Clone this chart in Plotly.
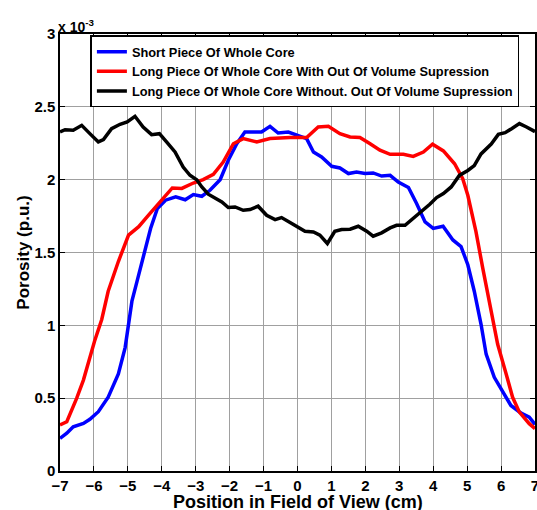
import plotly.graph_objects as go

# Porosity values in units of 1e-3
blue_x = [-7.0, -6.80, -6.61, -6.31, -6.12, -5.87, -5.58, -5.28, -5.08, -4.98, -4.88, -4.73, -4.53, -4.33,
          -4.13, -3.89, -3.59, -3.31, -3.07, -2.82, -2.58, -2.28, -2.04, -1.79, -1.55, -1.06, -0.81, -0.57,
          -0.27, -0.02, 0.27, 0.47, 0.71, 1.01, 1.25, 1.50, 1.74, 1.99, 2.23, 2.48, 2.73, 2.97, 3.27, 3.51,
          3.76, 4.00, 4.29, 4.58, 4.82, 5.02, 5.21, 5.41, 5.56, 5.80, 6.05, 6.29, 6.59, 6.83, 7.0]
blue_y = [0.224, 0.259, 0.304, 0.327, 0.355, 0.407, 0.507, 0.666, 0.847, 1.007, 1.166, 1.302, 1.484, 1.665,
          1.802, 1.859, 1.882, 1.862, 1.898, 1.886, 1.927, 2.000, 2.133, 2.247, 2.327, 2.327, 2.366, 2.320,
          2.327, 2.305, 2.282, 2.190, 2.156, 2.092, 2.080, 2.042, 2.053, 2.042, 2.046, 2.025, 2.030, 1.984,
          1.946, 1.836, 1.710, 1.665, 1.680, 1.586, 1.541, 1.416, 1.234, 1.007, 0.802, 0.643, 0.541, 0.450,
          0.397, 0.370, 0.320]

red_x = [-7.0, -6.80, -6.51, -6.31, -5.98, -5.77, -5.58, -5.28, -4.98, -4.68, -4.39, -4.04, -3.69, -3.41,
         -3.07, -2.78, -2.48, -2.19, -1.89, -1.60, -1.20, -0.81, -0.22, 0.27, 0.61, 0.91, 1.25, 1.55, 1.84,
         2.14, 2.43, 2.73, 3.12, 3.41, 3.71, 3.98, 4.30, 4.63, 4.87, 5.02, 5.26, 5.46, 5.66, 5.90, 6.15,
         6.34, 6.54, 6.83, 7.0]
red_y = [0.316, 0.338, 0.499, 0.624, 0.893, 1.040, 1.234, 1.438, 1.620, 1.677, 1.757, 1.847, 1.943, 1.940,
         1.977, 2.000, 2.037, 2.121, 2.247, 2.282, 2.259, 2.282, 2.290, 2.289, 2.362, 2.366, 2.316, 2.293,
         2.289, 2.247, 2.202, 2.174, 2.174, 2.160, 2.190, 2.243, 2.197, 2.109, 2.006, 1.893, 1.643, 1.393,
         1.143, 0.870, 0.666, 0.506, 0.404, 0.325, 0.291]

black_x = [-7.0, -6.85, -6.61, -6.36, -6.12, -5.87, -5.72, -5.48, -5.23, -5.02, -4.79, -4.55, -4.30, -4.07,
           -3.86, -3.61, -3.37, -3.17, -2.97, -2.82, -2.63, -2.43, -2.23, -2.04, -1.84, -1.60, -1.40, -1.16,
           -0.91, -0.66, -0.47, -0.22, 0.22, 0.47, 0.66, 0.88, 1.10, 1.30, 1.55, 1.79, 2.04, 2.23, 2.48,
           2.73, 2.92, 3.17, 3.41, 3.66, 3.90, 4.10, 4.30, 4.53, 4.77, 5.02, 5.21, 5.41, 5.71, 5.92,
           6.12, 6.31, 6.54, 6.75, 7.0]
black_y = [2.327, 2.343, 2.339, 2.373, 2.316, 2.259, 2.275, 2.350, 2.380, 2.396, 2.435, 2.362, 2.309, 2.316,
           2.259, 2.190, 2.087, 2.030, 2.000, 1.950, 1.900, 1.870, 1.847, 1.809, 1.813, 1.790, 1.795, 1.818,
           1.756, 1.726, 1.740, 1.706, 1.646, 1.641, 1.619, 1.562, 1.646, 1.658, 1.660, 1.680, 1.646, 1.612,
           1.635, 1.669, 1.687, 1.687, 1.733, 1.778, 1.831, 1.877, 1.905, 1.950, 2.029, 2.063, 2.097, 2.177,
           2.245, 2.311, 2.323, 2.350, 2.385, 2.362, 2.330]

x_ticks = list(range(-7, 8))
y_ticks = [0, 0.5, 1, 1.5, 2, 2.5, 3]
y_tick_labels = ["0", "0.5", "1", "1.5", "2", "2.5", "3"]
scale = 1e-3
x_title = "Position in Field of View (cm)"
y_title = "Porosity (p.u.)"

names = ["Short Piece Of Whole Core",
         "Long Piece Of Whole Core With Out Of Volume Supression",
         "Long Piece Of Whole Core Without. Out Of Volume Supression"]
colors = ["#0000ff", "#ff0000", "#000000"]

fig = go.Figure()
for xs, ys, nm, c in [(blue_x, blue_y, names[0], colors[0]),
                      (red_x, red_y, names[1], colors[1]),
                      (black_x, black_y, names[2], colors[2])]:
    fig.add_trace(go.Scatter(x=xs, y=[v * scale for v in ys], mode="lines", name=nm,
                             line=dict(color=c, width=3.5)))

font_fam = "Liberation Sans, Arial, sans-serif"
fig.update_layout(
    width=537, height=510,
    margin=dict(l=60, r=2, t=34, b=39, autoexpand=False),
    paper_bgcolor="white", plot_bgcolor="white",
    font=dict(family=font_fam, color="black"),
    showlegend=True,
    legend=dict(x=0.064, y=0.997, xanchor="left", yanchor="top",
                bgcolor="white", bordercolor="black", borderwidth=1.5,
                font=dict(size=12.8, family=font_fam, weight="bold"),
                itemwidth=30, tracegroupgap=0),
    xaxis=dict(range=[-7, 7], tickvals=x_ticks, ticks="inside", ticklen=5, tickcolor="black",
               showline=True, linecolor="black", linewidth=1.5, mirror="ticks",
               showgrid=True, gridcolor="#a0a0a0", gridwidth=1, zeroline=False, automargin=False,
               ticklabeloverflow="allow",
               tickfont=dict(size=15, weight="bold")),
    yaxis=dict(range=[0, 3 * scale], tickvals=[v * scale for v in y_ticks], ticktext=y_tick_labels,
               ticks="inside", ticklen=5, tickcolor="black",
               showline=True, linecolor="black", linewidth=1.5, mirror="ticks",
               showgrid=True, gridcolor="#a0a0a0", gridwidth=1, zeroline=False, automargin=False,
               ticklabeloverflow="allow",
               tickfont=dict(size=15, weight="bold"),
               title=dict(text=y_title, font=dict(size=17, weight="bold"), standoff=0)),
)
# x-axis title placed just below the tick labels
fig.add_annotation(xref="paper", yref="paper", x=0.5, y=0.0, xanchor="center", yanchor="top",
                   text=x_title, showarrow=False, yshift=-19,
                   font=dict(size=18, weight="bold", family=font_fam))
fig.add_annotation(xref="paper", yref="paper", x=0.0, y=1.0, xanchor="left", yanchor="bottom",
                   text="x 10<sup>-3</sup>", showarrow=False,
                   font=dict(size=14, weight="bold", family=font_fam), xshift=-4, yshift=-3)

# remove the default page margin so the 537x510 figure fills the window exactly
fig.write_html("out.html", config={"displayModeBar": False},
               post_script="document.body.style.margin='0';document.body.style.overflow='hidden';")
